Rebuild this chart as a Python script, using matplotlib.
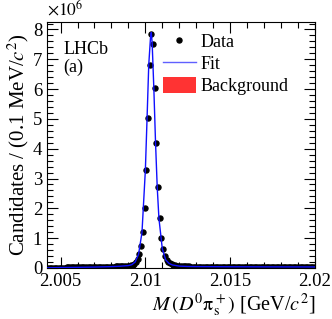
import matplotlib
matplotlib.use('Agg')
import matplotlib.pyplot as plt
from matplotlib.ticker import MultipleLocator
from matplotlib.patches import Patch
from matplotlib.lines import Line2D

# bin edges every 0.1 MeV, centres from 2.00405 to 2.01995 GeV (values in units of 1e6)
first_centre = 2.00405
bin_width = 0.0001
counts = [
    # 2.00405 - 2.00495
    0.004, 0.006, 0.007, 0.008, 0.009, 0.010, 0.011, 0.012, 0.012, 0.013,
    # 2.00505 - 2.00595
    0.014, 0.015, 0.015, 0.016, 0.017, 0.018, 0.018, 0.019, 0.020, 0.021,
    # 2.00605 - 2.00695
    0.021, 0.022, 0.023, 0.024, 0.025, 0.026, 0.026, 0.027, 0.028, 0.029,
    # 2.00705 - 2.00795
    0.030, 0.031, 0.032, 0.033, 0.035, 0.036, 0.038, 0.039, 0.041, 0.043,
    # 2.00805 - 2.00895
    0.045, 0.048, 0.050, 0.052, 0.055, 0.058, 0.061, 0.064, 0.068, 0.072,
    # 2.00905 - 2.00995
    0.080, 0.090, 0.110, 0.145, 0.200, 0.300, 0.460, 0.720, 1.190, 2.000,
    # 2.01005 - 2.01095
    3.280, 5.020, 6.820, 7.850, 7.500, 6.020, 4.200, 2.700, 1.660, 1.020,
    # 2.01105 - 2.01195
    0.640, 0.400, 0.270, 0.190, 0.150, 0.120, 0.100, 0.085, 0.075, 0.068,
    # 2.01205 - 2.01295
    0.062, 0.058, 0.054, 0.051, 0.050, 0.049, 0.048, 0.047, 0.047, 0.046,
    # 2.01305 - 2.01395
    0.046, 0.045, 0.045, 0.045, 0.044, 0.044, 0.044, 0.043, 0.043, 0.043,
    # 2.01405 - 2.01495
    0.043, 0.042, 0.042, 0.042, 0.042, 0.041, 0.041, 0.041, 0.041, 0.041,
    # 2.01505 - 2.01595
    0.040, 0.040, 0.040, 0.040, 0.040, 0.040, 0.039, 0.039, 0.039, 0.039,
    # 2.01605 - 2.01695
    0.039, 0.039, 0.038, 0.038, 0.038, 0.038, 0.038, 0.038, 0.038, 0.037,
    # 2.01705 - 2.01795
    0.037, 0.037, 0.037, 0.037, 0.037, 0.037, 0.037, 0.036, 0.036, 0.036,
    # 2.01805 - 2.01895
    0.036, 0.036, 0.036, 0.036, 0.036, 0.036, 0.035, 0.035, 0.035, 0.035,
    # 2.01905 - 2.01995
    0.035, 0.035, 0.035, 0.035, 0.035, 0.035, 0.035, 0.034, 0.034, 0.034,
]
mass = [first_centre + i * bin_width for i in range(len(counts))]

# fit curve (values in units of 1e6)
fit_mass = [2.0042, 2.0050, 2.0060, 2.0070, 2.0080, 2.0085, 2.0090, 2.0092,
            2.0094, 2.0096, 2.0098, 2.0100, 2.0101, 2.0102, 2.0103, 2.01035,
            2.0104, 2.0105, 2.0106, 2.0107, 2.0108, 2.0110, 2.0112, 2.0114,
            2.0116, 2.0120, 2.0125, 2.0130, 2.0140, 2.0150, 2.0160, 2.0170,
            2.0180, 2.0190, 2.0200]
fit_vals = [0.004, 0.014, 0.021, 0.030, 0.045, 0.058, 0.080, 0.110,
            0.200, 0.460, 1.190, 3.280, 5.020, 6.820, 7.700, 7.900,
            7.550, 6.020, 4.200, 2.700, 1.660, 0.640, 0.270, 0.150,
            0.100, 0.062, 0.050, 0.046, 0.043, 0.040, 0.039, 0.037,
            0.036, 0.035, 0.034]

# combinatorial background (values in units of 1e6)
bkg_mass = [2.0042, 2.0050, 2.0060, 2.0080, 2.0100, 2.0120, 2.0140, 2.0160,
            2.0180, 2.0200]
bkg_vals = [0.000, 0.006, 0.009, 0.012, 0.015, 0.017, 0.019, 0.020,
            0.021, 0.022]

plt.rcParams['font.family'] = ['Liberation Serif', 'DejaVu Serif']
plt.rcParams['mathtext.fontset'] = 'stix'

fig = plt.figure(figsize=(3.32, 3.19), dpi=100)
ax = fig.add_axes([0.1416, 0.160, 0.807, 0.771])

ax.fill_between(bkg_mass, 0, bkg_vals, color='#ff3333', lw=0, zorder=1)
ax.plot(mass, counts, 'o', color='black', markersize=3.6, zorder=2)
ax.plot(fit_mass, fit_vals, '-', color='#1010ff', lw=1.0, zorder=3)

ax.set_xlim(2.0042, 2.02)
ax.set_ylim(0, 8.25)
ax.xaxis.set_major_locator(MultipleLocator(0.005))
ax.xaxis.set_minor_locator(MultipleLocator(0.001))
ax.yaxis.set_major_locator(MultipleLocator(1))
ax.yaxis.set_minor_locator(MultipleLocator(0.2))
ax.set_xticks([2.005, 2.01, 2.015, 2.02])
ax.set_xticklabels(['2.005', '2.01', '2.015', '2.02'])
ax.tick_params(which='both', direction='in', top=True, right=True, labelsize=13.5)
ax.tick_params(which='major', length=8, width=0.8)
ax.tick_params(which='minor', length=4, width=0.8)

ax.set_ylabel(r'Candidates / (0.1 MeV/$c^2$)', fontsize=15, labelpad=1)
ax.set_xlabel(r'$M\,(D^0\mathrm{\pi}^+_{\mathrm{s}})$ [GeV/$c^2$]', fontsize=14.5,
              loc='right', labelpad=1)
ax.text(0.0, 1.01, r'$\times10^6$', transform=ax.transAxes, fontsize=12.5,
        ha='left', va='bottom')

ax.text(0.06, 0.89, 'LHCb', transform=ax.transAxes, fontsize=13, ha='left', va='center')
ax.text(0.06, 0.815, '(a)', transform=ax.transAxes, fontsize=13, ha='left', va='center')

handles = [Line2D([], [], marker='o', color='black', ls='none', markersize=3.6),
           Line2D([], [], color='#6060ff', lw=1.0),
           Patch(facecolor='#ff3333', edgecolor='none')]
ax.legend(handles, ['Data', 'Fit', 'Background'], loc='upper left',
          bbox_to_anchor=(0.433, 0.956), frameon=False, fontsize=13,
          handlelength=1.8, handleheight=1.0, handletextpad=0.3,
          labelspacing=0.2, borderaxespad=0.0, borderpad=0.0)

fig.savefig('out.png', dpi=100)
